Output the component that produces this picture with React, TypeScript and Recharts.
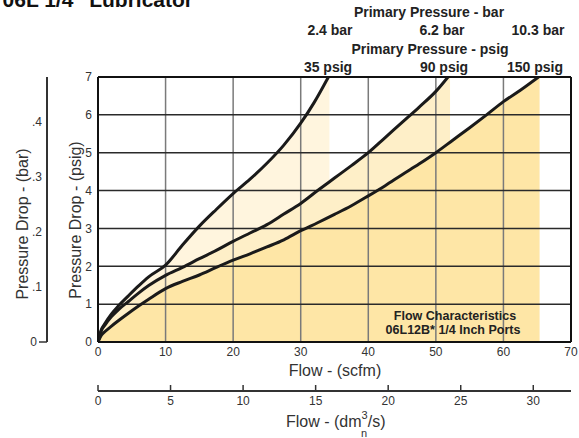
import { ComposedChart, Area, Line, XAxis, YAxis, CartesianGrid, ReferenceLine } from 'recharts';

// flow (scfm) vs pressure drop (psig) for each primary pressure
const flow35 = [0, 0.5, 1, 2, 3, 4.5, 6, 7.5, 10, 12.5, 15, 17.5, 20, 22.5, 25, 27.5, 30, 32, 34.1];
const drop35 = [0, 0.33, 0.48, 0.74, 0.95, 1.22, 1.48, 1.72, 2.03, 2.56, 3.06, 3.5, 3.92, 4.3, 4.72, 5.2, 5.78, 6.33, 7];

const flow90 = [0, 0.5, 1, 2, 3, 4.5, 6, 7.5, 10, 12.5, 15, 17.5, 20, 22.5, 25, 27.5, 30, 32.5, 35, 37.5, 40, 42.5, 45, 47.5, 50, 51.8];
const drop90 = [0, 0.3, 0.44, 0.67, 0.85, 1.07, 1.29, 1.49, 1.76, 1.97, 2.2, 2.42, 2.66, 2.88, 3.1, 3.38, 3.66, 4.0, 4.33, 4.66, 5.0, 5.4, 5.8, 6.2, 6.62, 7];

const flow150 = [0, 0.5, 1, 2, 3, 4.5, 6, 7.5, 10, 12.5, 15, 17.5, 20, 22.5, 25, 27.5, 30, 32.5, 35, 37.5, 40, 42.5, 45, 47.5, 50, 52.5, 55, 57.5, 60, 62.5, 65.2];
const drop150 = [0, 0.18, 0.27, 0.42, 0.56, 0.76, 0.95, 1.13, 1.41, 1.6, 1.77, 1.97, 2.16, 2.33, 2.51, 2.7, 2.94, 3.15, 3.37, 3.6, 3.86, 4.13, 4.42, 4.7, 5.0, 5.33, 5.66, 6.0, 6.35, 6.65, 7];

// where each shaded band stops on the right
const shadeEnd = [34.25, 52.1, 65.35];
const shadeColors = ['#fff5de', '#feefc8', '#fee6a6'];

const scfmTicks = [0, 10, 20, 30, 40, 50, 60, 70];
const dm3Ticks = [0, 5, 10, 15, 20, 25, 30];
const psigTicks = [0, 1, 2, 3, 4, 5, 6, 7];
const barTicks = [0, 0.1, 0.2, 0.3, 0.4];

const barLabels = ['2.4 bar', '6.2 bar', '10.3 bar'];
const psigLabels = ['35 psig', '90 psig', '150 psig'];

const PSI_TO_BAR = 0.0689476;
const SCFM_TO_DM3 = 0.4719;
const FONT = '"Liberation Sans", Arial, Helvetica, sans-serif';

// axis ids: 0 sits next to the plot, 1 further out
const SCFM = 0;
const DM3 = 1;
const PSIG = 0;
const BAR = 1;

const toPoints = (flow: number[], drop: number[]) => flow.map((x, i) => ({ x, y: drop[i] }));

const curves = [toPoints(flow35, drop35), toPoints(flow90, drop90), toPoints(flow150, drop150)];
const shades = curves.map((pts, i) => [...pts, { x: shadeEnd[i], y: 7 }]);
// same 150 psig curve in dm3/s, only used to give the metric axis its data
const metricCurve = curves[2].map((p) => ({ x: p.x * SCFM_TO_DM3, y: p.y }));

const Dm3Tick = (props: any) => {
  const { x, y, payload } = props;
  return (
    <g>
      <line x1={x} y1={y - 6} x2={x} y2={y} stroke="#333" strokeWidth={1.5} />
      <text x={x} y={y + 14} textAnchor="middle" fontSize={12} fill="#333" fontFamily={FONT}>
        {payload.value}
      </text>
    </g>
  );
};

const BarTick = (props: any) => {
  const { x, y, payload } = props;
  const v = payload.value as number;
  if (v === 0) {
    return (
      <g>
        <line x1={x - 3} y1={y} x2={x + 5} y2={y} stroke="#333" strokeWidth={1.5} />
        <text x={x - 5} y={y + 4} textAnchor="end" fontSize={12} fill="#333" fontFamily={FONT}>0</text>
      </g>
    );
  }
  return (
    <text x={x} y={y + 4} textAnchor="end" fontSize={12} fill="#333" fontFamily={FONT}>
      {v.toFixed(1).replace(/^0/, '')}
    </text>
  );
};

export default function App() {
  const pressX = [330, 442, 538];
  const psigX = [328, 444, 535];
  return (
    <div style={{ position: 'absolute', left: 0, top: 0, width: 579, height: 438, background: '#fff', overflow: 'hidden' }}>
      <ComposedChart width={579} height={438} margin={{ top: 77, right: 8, bottom: 0, left: 7 }} style={{ fontFamily: FONT }}>
        <XAxis
          xAxisId={SCFM}
          type="number"
          dataKey="x"
          domain={[0, 70]}
          ticks={scfmTicks}
          allowDataOverflow
          height={49}
          tickLine={false}
          tickSize={3}
          tickMargin={2}
          axisLine={{ stroke: '#111', strokeWidth: 2 }}
          tick={{ fontSize: 12, fill: '#333' }}
        />
        <XAxis
          xAxisId={DM3}
          type="number"
          dataKey="x"
          domain={[0, 32.6]}
          ticks={dm3Ticks}
          allowDataOverflow
          height={47}
          tickLine={false}
          tickSize={0}
          tickMargin={0}
          axisLine={{ stroke: '#333', strokeWidth: 2 }}
          tick={<Dm3Tick />}
        />
        <YAxis
          yAxisId={PSIG}
          type="number"
          domain={[0, 7]}
          ticks={psigTicks}
          allowDataOverflow
          width={51}
          tickLine={false}
          tickSize={3}
          tickMargin={3}
          axisLine={{ stroke: '#111', strokeWidth: 2 }}
          tick={{ fontSize: 12, fill: '#333' }}
        />
        <YAxis
          yAxisId={BAR}
          type="number"
          domain={[0, 7 * PSI_TO_BAR]}
          ticks={barTicks}
          allowDataOverflow
          width={40}
          tickLine={false}
          tickSize={2}
          tickMargin={3}
          axisLine={{ stroke: '#333', strokeWidth: 2 }}
          tick={<BarTick />}
        />
        {shades.map((pts, i) => (
          <Area
            key={'shade' + i}
            xAxisId={SCFM}
            yAxisId={PSIG}
            data={pts}
            dataKey="y"
            type="monotone"
            stroke="none"
            fill={shadeColors[i]}
            fillOpacity={1}
            isAnimationActive={false}
          />
        ))}
        <CartesianGrid xAxisId={SCFM} yAxisId={PSIG} horizontal={false} stroke="#7a7a7a" strokeWidth={1.5} zIndex={150} />
        <CartesianGrid xAxisId={SCFM} yAxisId={PSIG} vertical={false} stroke="#2a2a2a" strokeWidth={1.5} zIndex={150} />
        <ReferenceLine xAxisId={SCFM} yAxisId={PSIG} y={7} stroke="#111" strokeWidth={2} />
        <ReferenceLine xAxisId={SCFM} yAxisId={PSIG} x={70} stroke="#111" strokeWidth={2} />
        <Line
          xAxisId={DM3}
          yAxisId={PSIG}
          data={metricCurve}
          dataKey="y"
          type="monotone"
          stroke="none"
          dot={false}
          isAnimationActive={false}
        />
        <Line
          xAxisId={SCFM}
          yAxisId={BAR}
          data={curves[0].map((p) => ({ x: p.x, y: p.y * PSI_TO_BAR }))}
          dataKey="y"
          type="monotone"
          stroke="none"
          dot={false}
          isAnimationActive={false}
        />
        {curves.map((pts, i) => (
          <Line
            key={'curve' + i}
            xAxisId={SCFM}
            yAxisId={PSIG}
            data={pts}
            dataKey="y"
            type="monotone"
            stroke="#1a1a1a"
            strokeWidth={3}
            dot={false}
            isAnimationActive={false}
          />
        ))}
      </ComposedChart>
      <svg width={579} height={438} style={{ position: 'absolute', left: 0, top: 0, pointerEvents: 'none' }} fontFamily={FONT}>
        <text x={193} y={7} textAnchor="end" fontSize={21} fontWeight="bold" fill="#111">06L 1/4" Lubricator</text>
        <text x={429} y={17} textAnchor="middle" fontSize={14} fontWeight="bold" fill="#222">Primary Pressure - bar</text>
        {barLabels.map((t, i) => (
          <text key={t} x={pressX[i]} y={35} textAnchor="middle" fontSize={14} fontWeight="bold" fill="#222">{t}</text>
        ))}
        <text x={430} y={54} textAnchor="middle" fontSize={14} fontWeight="bold" fill="#222">Primary Pressure - psig</text>
        {psigLabels.map((t, i) => (
          <text key={t} x={psigX[i]} y={72} textAnchor="middle" fontSize={14} fontWeight="bold" fill="#222">{t}</text>
        ))}
        <text x={455} y={320} textAnchor="middle" fontSize={12.5} fontWeight="bold" fill="#222">Flow Characteristics</text>
        <text x={453} y={334} textAnchor="middle" fontSize={12.5} fontWeight="bold" fill="#222">06L12B* 1/4 Inch Ports</text>
        <text x={335} y={376} textAnchor="middle" fontSize={16} fill="#333">Flow - (scfm)</text>
        <text x={286} y={427} fontSize={16} fill="#333">
          Flow - (dm<tspan dy={-8} fontSize={11}>3</tspan><tspan dy={8} fontSize={16}>/s)</tspan>
        </text>
        <text x={361} y={437} fontSize={11} fill="#333">n</text>
        <text transform="translate(75,220) rotate(-90)" textAnchor="middle" dominantBaseline="central" fontSize={16} fill="#333">Pressure Drop - (psig)</text>
        <text transform="translate(22,224) rotate(-90)" textAnchor="middle" dominantBaseline="central" fontSize={16} fill="#333">Pressure Drop - (bar)</text>
      </svg>
    </div>
  );
}
